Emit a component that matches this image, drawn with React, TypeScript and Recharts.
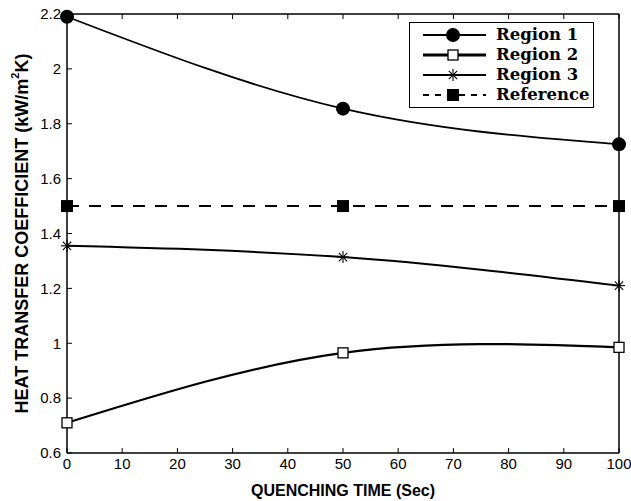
import React from "react";
import {
  LineChart,
  Line,
  XAxis,
  YAxis,
} from "recharts";

// values
const quenchTimes = [0, 50, 100];
const region1 = [2.19, 1.855, 1.725];
const region2 = [0.71, 0.965, 0.985];
const region3 = [1.355, 1.314, 1.21];
const reference = [1.5, 1.5, 1.5];

const xTicks = [0, 10, 20, 30, 40, 50, 60, 70, 80, 90, 100];
const yTicks = [0.6, 0.8, 1, 1.2, 1.4, 1.6, 1.8, 2, 2.2];

const data = quenchTimes.map((t, i) => ({
  t,
  r1: region1[i],
  r2: region2[i],
  r3: region3[i],
  ref: reference[i],
}));

const tickFont = {
  fill: "#000",
  fontSize: 15,
  fontFamily: "'Liberation Sans', Arial, sans-serif",
};

// markers
const CircleMark = ({ cx, cy }: any) =>
  cx == null ? null : <circle cx={cx} cy={cy} r={7} fill="#000" />;

const OpenSquare = ({ cx, cy }: any) =>
  cx == null ? null : (
    <rect x={cx - 5} y={cy - 5} width={10} height={10} fill="#fff" stroke="#000" strokeWidth={1.3} />
  );

const Star = ({ cx, cy }: any) => {
  if (cx == null) return null;
  const s = 6;
  const d = 4.2;
  return (
    <g stroke="#000" strokeWidth={1.1}>
      <line x1={cx - s} y1={cy} x2={cx + s} y2={cy} />
      <line x1={cx} y1={cy - s} x2={cx} y2={cy + s} />
      <line x1={cx - d} y1={cy - d} x2={cx + d} y2={cy + d} />
      <line x1={cx - d} y1={cy + d} x2={cx + d} y2={cy - d} />
    </g>
  );
};

const FilledSquare = ({ cx, cy }: any) =>
  cx == null ? null : <rect x={cx - 6} y={cy - 6} width={12} height={12} fill="#000" />;

const legendItems = [
  { name: "Region 1", Mark: CircleMark, width: 2, dash: undefined as string | undefined },
  { name: "Region 2", Mark: OpenSquare, width: 3, dash: undefined },
  { name: "Region 3", Mark: Star, width: 2, dash: undefined },
  { name: "Reference", Mark: FilledSquare, width: 2, dash: "6 6" },
];

// legend drawn as an overlay so it takes no room from the plot
function LegendBox() {
  return (
    <div
      style={{
        position: "absolute",
        left: 409,
        top: 22,
        border: "1.5px solid #000",
        background: "#fff",
        width: 185,
        padding: "2px 0",
        boxSizing: "border-box",
      }}
    >
      {legendItems.map(({ name, Mark, width, dash }) => (
        <div key={name} style={{ display: "flex", alignItems: "center", height: 20 }}>
          <svg width={86} height={20} style={{ display: "block" }}>
            <line x1={13} y1={10} x2={76} y2={10} stroke="#000" strokeWidth={width} strokeDasharray={dash} />
            <Mark cx={43} cy={10} />
          </svg>
          <span
            style={{
              fontFamily: "'DejaVu Serif', serif",
              fontWeight: "bold",
              fontSize: 16.5,
              color: "#000",
              lineHeight: "20px",
            }}
          >
            {name}
          </span>
        </div>
      ))}
    </div>
  );
}

function YTitle({ viewBox }: any) {
  const cy = viewBox ? viewBox.y + viewBox.height / 2 : 233;
  return (
    <text
      x={0}
      y={0}
      transform={`translate(22, ${cy}) rotate(-90)`}
      textAnchor="middle"
      dominantBaseline="central"
      fontFamily="'Liberation Sans', Arial, sans-serif"
      fontWeight="bold"
      fontSize={18}
      fill="#000"
    >
      HEAT TRANSFER COEFFICIENT (kW/m
      <tspan dy={-7} fontSize={11}>2</tspan>
      <tspan dy={7}>K)</tspan>
    </text>
  );
}

export default function App() {
  return (
    <div style={{ position: "absolute", left: 0, top: 0, width: 631, height: 501, background: "#fff" }}>
      <LineChart width={631} height={501} data={data} margin={{ top: 0, right: 0, bottom: 0, left: 0 }}>
        <XAxis
          dataKey="t"
          type="number"
          domain={[0, 100]}
          ticks={xTicks}
          interval={0}
          height={48}
          tickSize={-5}
          tickMargin={10}
          tick={tickFont}
          axisLine={{ stroke: "#000", strokeWidth: 1.5 }}
          tickLine={{ stroke: "#000" }}
          label={{
            value: "QUENCHING TIME (Sec)",
            position: "insideBottom",
            offset: 5,
            fill: "#000",
            fontSize: 16,
            fontWeight: "bold",
            fontFamily: "'Liberation Sans', Arial, sans-serif",
          }}
        />
        <XAxis
          xAxisId="top"
          orientation="top"
          dataKey="t"
          type="number"
          domain={[0, 100]}
          ticks={xTicks}
          interval={0}
          height={14}
          tickSize={-5}
          tickFormatter={() => ""}
          axisLine={{ stroke: "#000", strokeWidth: 1.5 }}
          tickLine={{ stroke: "#000" }}
        />
        <YAxis
          type="number"
          domain={[0.6, 2.2]}
          ticks={yTicks}
          interval={0}
          width={67}
          tickSize={-5}
          tickMargin={11}
          tick={tickFont}
          tickFormatter={(v: number) => String(Number(v.toFixed(1)))}
          axisLine={{ stroke: "#000", strokeWidth: 1.5 }}
          tickLine={{ stroke: "#000" }}
          label={<YTitle />}
        />
        <YAxis
          yAxisId="right"
          orientation="right"
          type="number"
          domain={[0.6, 2.2]}
          ticks={yTicks}
          interval={0}
          width={12}
          tickSize={-5}
          tickFormatter={() => ""}
          axisLine={{ stroke: "#000", strokeWidth: 1.5 }}
          tickLine={{ stroke: "#000" }}
        />
        <Line
          type="natural"
          dataKey="ref"
          stroke="#000"
          strokeWidth={2}
          strokeDasharray="12 10"
          dot={<FilledSquare />}
          activeDot={false}
          isAnimationActive={false}
        />
        <Line
          type="natural"
          dataKey="r1"
          stroke="#000"
          strokeWidth={1.8}
          dot={<CircleMark />}
          activeDot={false}
          isAnimationActive={false}
        />
        <Line
          type="natural"
          dataKey="r2"
          stroke="#000"
          strokeWidth={2.2}
          dot={<OpenSquare />}
          activeDot={false}
          isAnimationActive={false}
        />
        <Line
          type="natural"
          dataKey="r3"
          stroke="#000"
          strokeWidth={2}
          dot={<Star />}
          activeDot={false}
          isAnimationActive={false}
        />
      </LineChart>
      <LegendBox />
    </div>
  );
}
